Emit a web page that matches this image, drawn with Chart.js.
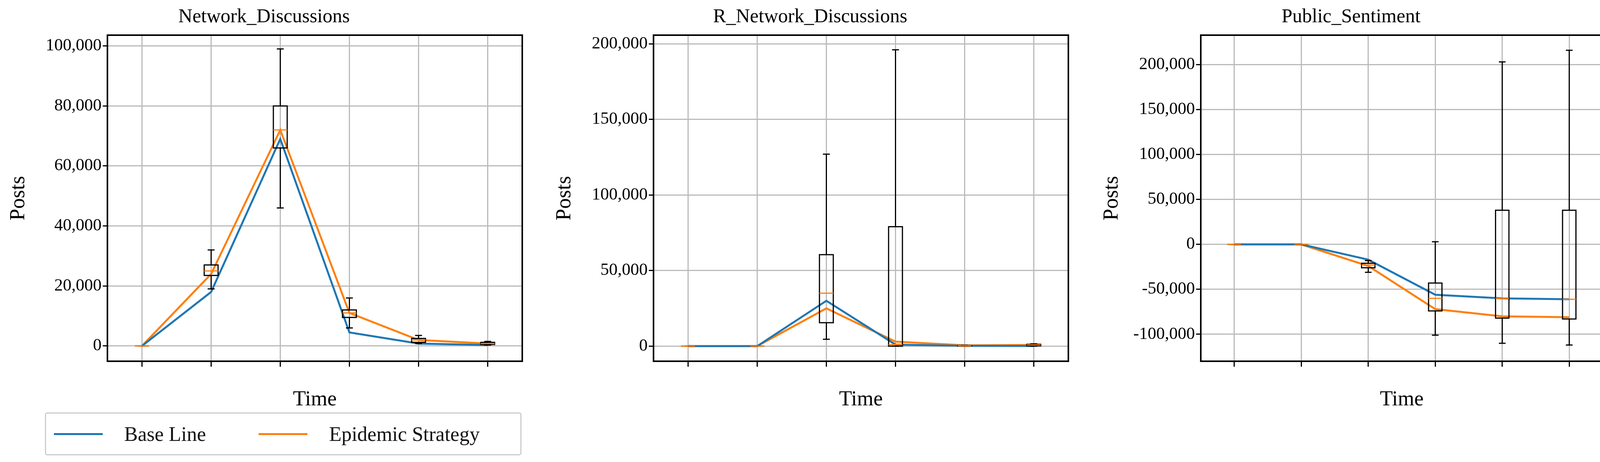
<!DOCTYPE html>
<html>
<head>
<meta charset="utf-8">
<script src="https://cdn.jsdelivr.net/npm/chart.js@4"></script>
<style>
body { margin: 0; background: #fff; width: 4117px; height: 1183px; position: relative; overflow: hidden; font-family: "Liberation Serif", serif; }
.panel { position: absolute; top: 0; }
#legend { position: absolute; left: 115px; top: 1056px; width: 1220px; height: 110px; border: 3px solid #ccc; border-radius: 6px; box-sizing: border-box; display: flex; align-items: center; font-size: 52px; color: #111; }
.sw { display: inline-block; width: 125px; height: 5px; margin: 0 55px 0 20px; }
</style>
</head>
<body>
<div class="panel" style="left:15px;width:1330px;height:1060px"><canvas id="c0"></canvas></div>
<div class="panel" style="left:1413px;width:1330px;height:1060px"><canvas id="c1"></canvas></div>
<div class="panel" style="left:2814px;width:1297px;height:1060px"><canvas id="c2"></canvas></div>
<div id="legend"><span class="sw" style="background:#1f77b4"></span>Base Line<span class="sw" style="background:#ff7f0e;margin-left:135px"></span>Epidemic Strategy</div>
<script>
const timeLabels = ['', '', '', '', '', ''];
const titles = ['Network_Discussions', 'R_Network_Discussions', 'Public_Sentiment'];

// series values per panel
const baseLine1 = [0, 18000, 69000, 4500, 800, 300];
const epidemic1 = [0, 24000, 72000, 11000, 2000, 800];
const baseLine2 = [0, 0, 30000, 1000, 200, 100];
const epidemic2 = [0, 0, 25000, 3000, 500, 800];
const baseLine3 = [0, 0, -17000, -56000, -60000, -61000];
const epidemic3 = [0, 0, -24000, -72000, -80000, -81000];

// box plots: [whiskerLow, q1, median, q3, whiskerHigh] per time point
const boxes1 = [[0, 0, 0, 0, 0], [19000, 23500, 25000, 27000, 32000], [46000, 66000, 72000, 80000, 99000],
  [6000, 9500, 11000, 12000, 16000], [800, 1200, 2000, 2500, 3500], [300, 500, 800, 1200, 1500]];
const boxes2 = [[0, 0, 0, 0, 0], [0, 0, 0, 0, 0], [4500, 15500, 35000, 60500, 127000],
  [0, 0, 1000, 79000, 196000], [0, 0, 200, 300, 500], [0, 200, 800, 1200, 1500]];
const boxes3 = [[0, 0, 0, 0, 0], [0, 0, 0, 0, 0], [-31000, -26000, -23000, -21000, -18000],
  [-101000, -74000, -60000, -43000, 3000], [-110000, -82000, -60000, 38000, 203000], [-112000, -83000, -61000, 38000, 216000]];

const yRanges = [[-5100, 103600, 20000], [-10000, 205700, 50000], [-130000, 232800, 50000]];
const allBase = [baseLine1, baseLine2, baseLine3];
const allEpi = [epidemic1, epidemic2, epidemic3];
const allBoxes = [boxes1, boxes2, boxes3];

const boxPlugin = {
  id: 'boxes',
  afterDatasetsDraw(chart) {
    const ctx = chart.ctx, xs = chart.scales.x, ys = chart.scales.y;
    const a = chart.chartArea;
    const bw = (xs.getPixelForValue(1) - xs.getPixelForValue(0)) * 0.1;
    ctx.save();
    chart.options.plugins.boxes.data.forEach((b, i) => {
      const x = xs.getPixelForValue(i);
      const [lo, q1, med, q3, hi] = b.map(v => ys.getPixelForValue(v));
      ctx.strokeStyle = '#000'; ctx.lineWidth = 3;
      ctx.beginPath();
      ctx.moveTo(x, lo); ctx.lineTo(x, q1); ctx.moveTo(x, q3); ctx.lineTo(x, hi);
      ctx.moveTo(x - bw * 0.5, lo); ctx.lineTo(x + bw * 0.5, lo);
      ctx.moveTo(x - bw * 0.5, hi); ctx.lineTo(x + bw * 0.5, hi);
      ctx.stroke();
      ctx.strokeRect(x - bw, q3, bw * 2, q1 - q3);
      ctx.strokeStyle = '#ff7f0e';
      ctx.beginPath(); ctx.moveTo(x - bw, med); ctx.lineTo(x + bw, med); ctx.stroke();
    });
    ctx.strokeStyle = '#000'; ctx.lineWidth = 4;
    ctx.strokeRect(a.left, a.top, a.right - a.left, a.bottom - a.top);
    ctx.restore();
  }
};

titles.forEach((t, k) => {
  const [mn, mx, step] = yRanges[k];
  new Chart(document.getElementById('c' + k), {
    type: 'line',
    data: {
      labels: timeLabels,
      datasets: [
        { label: 'Base Line', data: allBase[k], borderColor: '#1f77b4', borderWidth: 5, pointRadius: 0, tension: 0 },
        { label: 'Epidemic Strategy', data: allEpi[k], borderColor: '#ff7f0e', borderWidth: 5, pointRadius: 0, tension: 0 }
      ]
    },
    plugins: [boxPlugin],
    options: {
      responsive: true, maintainAspectRatio: false, animation: false,
      layout: { padding: { top: 0, right: 8, bottom: 0, left: 0 } },
      plugins: {
        legend: { display: false },
        tooltip: { enabled: false },
        title: { display: true, text: t, color: '#000', font: { family: 'Liberation Serif', size: 50, weight: 'normal' }, padding: { top: 14, bottom: 16 } },
        boxes: { data: allBoxes[k] }
      },
      scales: {
        x: {
          offset: true,
          afterFit: s => { s.height = 135; },
          grid: { color: '#bbb', lineWidth: 3, tickLength: 14, tickColor: '#000', offset: false },
          border: { display: false },
          ticks: { display: true, font: { size: 1 } },
          title: { display: true, text: 'Time', color: '#000', font: { family: 'Liberation Serif', size: 54 }, padding: { top: 2 } }
        },
        y: {
          min: mn, max: mx,
          afterFit: s => { s.width = 260; },
          afterBuildTicks: s => {
            const tk = [];
            for (let v = Math.ceil(mn / step) * step; v <= mx; v += step) tk.push({ value: v + 0 });
            s.ticks = tk;
          },
          grid: { color: '#bbb', lineWidth: 3, tickLength: 12, tickColor: '#000' },
          border: { display: false },
          ticks: { color: '#000', font: { family: 'Liberation Serif', size: 44 }, callback: v => (v === 0 ? 0 : v).toLocaleString('en-US') },
          title: { display: true, text: 'Posts', color: '#000', font: { family: 'Liberation Serif', size: 54 }, padding: 0 }
        }
      }
    }
  });
});
</script>
</body>
</html>
